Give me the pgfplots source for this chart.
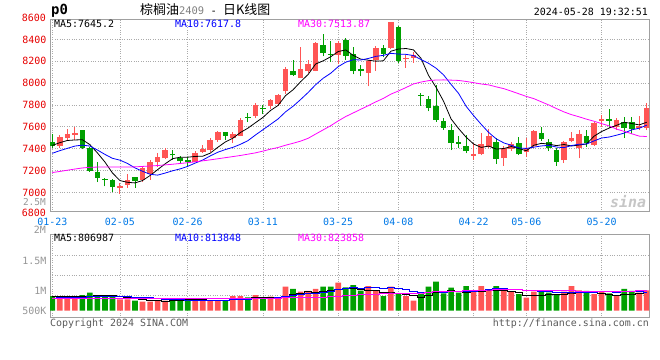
\documentclass[border=0pt]{standalone}
\usepackage{pgfplots}
\pgfplotsset{compat=1.18}
\usepackage{pgfplotstable}
\usepackage{fontspec}
\setmainfont{DejaVu Sans Mono}
\newfontfamily\cjk{Noto Sans CJK SC}
\definecolor{cR}{RGB}{255,85,85}
\definecolor{cG}{RGB}{0,160,0}
\definecolor{cBlue}{RGB}{0,0,255}
\definecolor{cMag}{RGB}{255,0,255}
\definecolor{cTick}{RGB}{0,120,230}
\definecolor{cFrame}{RGB}{160,160,160}
\definecolor{cGrid}{RGB}{170,170,170}
\definecolor{cLab}{RGB}{150,150,150}
\definecolor{cYL}{RGB}{230,0,0}
\definecolor{cFoot}{RGB}{90,90,90}
\pgfplotsset{
  wick/.style={draw=none, mark=none, forget plot, error bars/.cd, y dir=plus, y explicit, error mark=none, error bar style={draw=#1, solid, line width=1bp}},
  body/.style={draw=none, mark=none, forget plot, error bars/.cd, y dir=plus, y explicit, error mark=none, error bar style={draw=#1, solid, line width=5.6bp}},
}

\pgfplotstableread{
i ma5 ma10 ma30
0 7430 7358 7182
1 7455 7382 7192
2 7475 7403 7203
3 7480 7424 7214
4 7482.2 7433 7224
5 7437.4 7424 7230
6 7361.6 7388 7232
7 7278 7348 7232
8 7178 7312 7232
9 7108.4 7295.3 7232
10 7092.6 7265 7232
11 7087.2 7224.4 7234
12 7109 7193.5 7238
13 7154.6 7166.3 7242
14 7208.4 7158.4 7246
15 7261.8 7177.2 7252
16 7309 7198.1 7258
17 7322.4 7215.7 7265
18 7322.4 7238.5 7272
19 7329.2 7268.8 7280
20 7331.6 7296.7 7289
21 7359.6 7334.3 7298
22 7413 7367.7 7308
23 7461.4 7391.9 7318
24 7495.8 7412.5 7328
25 7548 7439.8 7338
26 7588 7473.8 7350
27 7637.6 7525.3 7362
28 7686.2 7573.8 7378
29 7749.2 7622.5 7395.5
30 7795.2 7671.6 7411.1
31 7885.4 7736.7 7431.8
32 7938.8 7788.2 7449.8
33 8012.6 7849.4 7469.2
34 8078.8 7914 7495
35 8174.6 7984.9 7534
36 8203.2 8044.3 7572.1
37 8240.8 8089.8 7610.3
38 8288.2 8150.4 7654.2
39 8303.2 8191 7694.1
40 8252.8 8213.7 7727.3
41 8219.4 8211.3 7760.8
42 8209 8224.9 7793.6
43 8200.4 8244.3 7828.5
44 8203.6 8253.4 7860
45 8291.4 8272.1 7898.9
46 8311.4 8265.4 7927.8
47 8316.2 8262.6 7959.2
48 8303.6 8252 7992.1
49 8226.6 8215.1 8009.5
50 8070.4 8180.9 8022.1
51 7961.4 8136.4 8028.1
52 7833.6 8074.9 8029.3
53 7671.8 7987.7 8027.1
54 7583.8 7905.2 8024.2
55 7505 7787.7 8014.9
56 7442.4 7701.9 8003.9
57 7412 7622.8 7991.7
58 7424 7547.9 7983.4
59 7396.8 7490.3 7965.5
60 7401.6 7453.3 7949.3
61 7419.8 7431.1 7926.3
62 7401.6 7406.8 7902.2
63 7381 7402.5 7878.2
64 7432 7414.4 7857.7
65 7449 7425.3 7828.4
66 7441.8 7430.8 7799.4
67 7428.6 7415.1 7766.8
68 7438.4 7409.7 7736.5
69 7425 7428.5 7711.3
70 7433.4 7441.2 7691.8
71 7443.2 7442.5 7670
72 7514.6 7471.6 7651.1
73 7557 7497.7 7629.3
74 7588.6 7506.8 7608.8
75 7614.2 7523.8 7578.9
76 7642 7542.6 7558.4
77 7630 7572.3 7536.7
78 7617.8 7587.4 7515
79 7642 7615.3 7511.4
}\matab

\pgfplotstableread{
i v5 v10 v30
0 640 560 550
1 630 570 550
2 620 580 550
3 615 590 550
4 613 600 550
5 642 610 550
6 672 620 550
7 686 625 550
8 686 630 550
9 648 631 550
10 590 616 550
11 540 606 550
12 496 591 550
13 446 566 550
14 434 541 550
15 422 506 550
16 443 491 550
17 464 480 550
18 493 470 550
19 493 464 550
20 493 458 550
21 472 458 550
22 461 462 550
23 440 467 550
24 481 487 550
25 522 508 550
26 551 512 550
27 601 531 550
28 581 531 550
29 575 549 548
30 575 563 546
31 648 625 563
32 730 676 576
33 774 716 583
34 830 738 589
35 809 768 594
36 830 815 606
37 874 852 621
38 947 921 640
39 961 962 658
40 976 1016 679
41 941 998 694
42 912 1011 716
43 882 1016 733
44 786 994 739
45 821 1004 760
46 751 972 766
47 704 931 771
48 663 852 768
49 598 822 777
50 663 815 798
51 789 855 826
52 853 822 837
53 909 835 856
54 856 850 860
55 818 853 875
56 838 866 884
57 853 910 898
58 873 956 909
59 873 991 925
60 876 973 935
61 827 929 927
62 795 926 920
63 692 882 911
64 683 887 910
65 683 862 906
66 695 855 898
67 727 820 887
68 727 814 874
69 777 814 876
70 797 815 868
71 824 818 867
72 803 818 856
73 754 845 854
74 727 837 858
75 683 818 844
76 727 834 852
77 733 847 859
78 739 843 871
79 789 824 876
}\vmatab

\begin{document}
\begin{tikzpicture}[every node/.style={font=\fontsize{10}{12}\selectfont}]
\useasboundingbox (0,0) rectangle (660bp,360bp);

% ---------- price panel ----------
\begin{axis}[
  at={(50bp,148.3bp)}, anchor=south west,
  width=599bp, height=192.7bp, scale only axis,
  xmin=-0.3, xmax=79.3, ymin=6824, ymax=8586,
  axis line style={cFrame, line width=0.8pt},
  xtick={0,9,18,28,38,46,56,63,73},
  xticklabels={01-23,02-05,02-26,03-11,03-25,04-08,04-22,05-06,05-20},
  xticklabel style={text=cTick, yshift=-2.5bp, text height=7.5bp, text depth=0bp},
  ytick={7000,7200,7400,7600,7800,8000,8200,8400},
  yticklabels={7000,7200,7400,7600,7800,8000,8200,8400},
  yticklabel style={text=cYL, text height=7.5bp, text depth=0bp},
  major tick length=0pt, tick style={draw=none},
  grid=major, grid style={cGrid, dotted, line width=0.7pt},
  clip mode=individual,
]
% wicks: (day, low) +- (0, high-low)
\addplot[wick=cR] coordinates {
(1,7409)+-(0,118) (2,7473)+-(0,103) (3,7476)+-(0,118) (9,6985)+-(0,100) (10,7039)+-(0,134)
(12,7100)+-(0,139) (13,7115)+-(0,182) (14,7236)+-(0,128) (15,7306)+-(0,103) (19,7276)+-(0,100)
(20,7361)+-(0,72) (21,7373)+-(0,121) (22,7464)+-(0,97) (24,7451)+-(0,104) (25,7512)+-(0,170)
(27,7685)+-(0,136) (29,7767)+-(0,90) (30,7791)+-(0,112) (31,7903)+-(0,242) (33,8045)+-(0,285)
(34,8094)+-(0,115) (35,8106)+-(0,273) (38,8173)+-(0,212) (42,7970)+-(0,242) (43,8109)+-(0,233)
(45,8312)+-(0,248) (47,8139)+-(0,122) (48,8188)+-(0,94) (56,7297)+-(0,155) (57,7342)+-(0,206)
(58,7403)+-(0,176) (60,7245)+-(0,182) (61,7379)+-(0,85) (63,7324)+-(0,176) (64,7409)+-(0,158)
(68,7267)+-(0,203) (69,7458)+-(0,97) (70,7312)+-(0,261) (72,7424)+-(0,221) (73,7600)+-(0,112)
(75,7570)+-(0,112) (78,7570)+-(0,130) (79,7570)+-(0,251)};
\addplot[wick=cG] coordinates {
(0,7409)+-(0,130) (4,7394)+-(0,173) (5,7191)+-(0,227) (6,7094)+-(0,182) (7,7055)+-(0,81)
(8,7003)+-(0,124) (11,7045)+-(0,94) (16,7297)+-(0,94) (17,7273)+-(0,60) (18,7233)+-(0,94)
(23,7479)+-(0,76) (26,7645)+-(0,82) (28,7721)+-(0,82) (32,8064)+-(0,145) (36,8245)+-(0,206)
(37,8191)+-(0,197) (39,8215)+-(0,194) (40,8079)+-(0,248) (41,8061)+-(0,100) (44,8236)+-(0,112)
(46,8188)+-(0,336) (49,7791)+-(0,115) (50,7742)+-(0,140) (51,7645)+-(0,334) (52,7573)+-(0,109)
(53,7388)+-(0,242) (54,7403)+-(0,109) (55,7358)+-(0,166) (59,7258)+-(0,236) (62,7342)+-(0,164)
(65,7470)+-(0,130) (66,7379)+-(0,109) (67,7245)+-(0,164) (71,7418)+-(0,149) (74,7591)+-(0,170)
(76,7500)+-(0,194) (77,7539)+-(0,149)};
% bodies: (day, lower body edge) +- (0, body height)
\addplot[body=cR] coordinates {
(1,7424)+-(0,85) (2,7494)+-(0,36) (3,7524)+-(0,24) (9,7042)+-(0,13) (10,7070)+-(0,48)
(12,7115)+-(0,106) (13,7167)+-(0,109) (14,7276)+-(0,48) (15,7312)+-(0,73) (19,7282)+-(0,76)
(20,7373)+-(0,24) (21,7385)+-(0,94) (22,7476)+-(0,79) (24,7500)+-(0,30) (25,7518)+-(0,140)
(27,7700)+-(0,103) (29,7791)+-(0,54) (30,7809)+-(0,79) (31,7924)+-(0,206) (33,8051)+-(0,79)
(34,8115)+-(0,61) (35,8115)+-(0,252) (38,8258)+-(0,109) (42,8094)+-(0,112) (43,8215)+-(0,109)
(45,8324)+-(0,230) (47,8218)+-(0,12) (48,8230)+-(0,31) (56,7336)+-(0,12) (57,7348)+-(0,91)
(58,7418)+-(0,94) (60,7312)+-(0,91) (61,7397)+-(0,42) (63,7373)+-(0,36) (64,7421)+-(0,140)
(68,7294)+-(0,164) (69,7470)+-(0,24) (70,7403)+-(0,127) (72,7433)+-(0,206) (73,7652)+-(0,18)
(75,7600)+-(0,58) (78,7585)+-(0,24) (79,7585)+-(0,188)};
\addplot[body=cG] coordinates {
(0,7421)+-(0,36) (4,7403)+-(0,164) (5,7197)+-(0,212) (6,7130)+-(0,61) (7,7112)+-(0,12)
(8,7048)+-(0,70) (11,7103)+-(0,36) (16,7339)+-(0,16) (17,7288)+-(0,27) (18,7276)+-(0,21)
(23,7518)+-(0,37) (26,7679)+-(0,15) (28,7761)+-(0,9) (32,8070)+-(0,42) (36,8273)+-(0,75)
(37,8258)+-(0,12) (39,8251)+-(0,146) (40,8115)+-(0,152) (41,8106)+-(0,24) (44,8267)+-(0,51)
(46,8206)+-(0,309) (49,7882)+-(0,9) (50,7773)+-(0,84) (51,7661)+-(0,133) (52,7591)+-(0,64)
(53,7452)+-(0,115) (54,7442)+-(0,16) (55,7379)+-(0,42) (59,7306)+-(0,158) (62,7348)+-(0,100)
(65,7488)+-(0,60) (66,7403)+-(0,55) (67,7282)+-(0,103) (71,7452)+-(0,60) (74,7652)+-(0,18)
(76,7591)+-(0,54) (77,7579)+-(0,66)};
\addplot[black, line width=0.8pt, mark=none] table[x=i,y=ma5] {\matab};
\addplot[cBlue, line width=0.8pt, mark=none] table[x=i,y=ma10] {\matab};
\addplot[cMag, line width=0.8pt, mark=none] table[x=i,y=ma30] {\matab};
\end{axis}

% ---------- volume panel ----------
\begin{axis}[
  at={(50bp,42.3bp)}, anchor=south west,
  width=599bp, height=83.4bp, scale only axis,
  xmin=-0.3, xmax=79.3, ymin=-307, ymax=3354,
  axis line style={cFrame, line width=0.8pt},
  xtick={0,9,18,28,38,46,56,63,73}, xticklabels={},
  xmajorgrids=true, ymajorgrids=false,
  ytick={0,878,2195}, yticklabels={500K,1M,1.5M},
  yticklabel style={text=cLab, text height=7.5bp, text depth=0bp},
  extra y ticks={689,1567,2445}, extra y tick labels={},
  extra y tick style={grid=major},
  major tick length=0pt, tick style={draw=none},
  grid style={cGrid, dotted, line width=0.7pt},
  clip mode=individual,
]
\addplot[ybar, bar width=0.75, bar shift=0pt, fill=cR, draw=none] coordinates {(1,543)(2,543)(3,645)(9,499)(10,499)(12,396)(13,396)(14,440)(15,440)(19,440)(20,440)(21,440)(22,440)(24,645)(25,645)(27,689)(29,616)(30,587)(31,1055)(33,836)(34,865)(35,953)(38,1231)(42,1084)(43,880)(45,1055)(47,645)(48,440)(56,865)(57,1084)(58,894)(60,880)(61,836)(63,572)(64,836)(68,836)(69,1084)(70,894)(72,733)(73,836)(75,645)(78,792)(79,894)};
\addplot[ybar, bar width=0.75, bar shift=0pt, fill=cG, draw=none] coordinates {(0,645)(4,689)(5,792)(6,689)(7,616)(8,645)(11,440)(16,543)(17,499)(18,543)(23,440)(26,587)(28,543)(32,953)(36,1055)(37,1055)(39,1026)(40,1128)(41,880)(44,645)(46,733)(49,733)(50,1055)(51,1275)(52,762)(53,1011)(54,792)(55,1084)(59,1084)(62,733)(65,836)(66,792)(67,733)(71,865)(74,762)(76,953)(77,865)};
\addplot[black, line width=0.8pt, mark=none, const plot mark mid] table[x=i,y=v5] {\vmatab};
\addplot[cBlue, line width=0.8pt, mark=none, const plot mark mid] table[x=i,y=v10] {\vmatab};
\addplot[cMag, line width=0.8pt, mark=none, const plot mark mid] table[x=i,y=v30] {\vmatab};
\end{axis}

% ---------- texts ----------
\node[anchor=west, inner sep=0] at (51bp,349bp) {\fontsize{14}{14}\selectfont\bfseries p0};
\node[anchor=west, inner sep=0] at (140bp,350bp) {\cjk\fontsize{13}{14}\selectfont 棕榈油{\color{gray}\fontspec{DejaVu Sans Mono}\fontsize{10.5}{12}\selectfont 2409}\fontspec{DejaVu Sans Mono}\fontsize{10.5}{12}\selectfont{} - \cjk\fontsize{13}{14}\selectfont 日K线图};
\node[anchor=east, inner sep=0] at (648bp,348bp) {2024-05-28 19:32:51};
\node[anchor=west, inner sep=0] at (54bp,336bp) {MA5:7645.2};
\node[anchor=west, inner sep=0, text=cBlue] at (175bp,336bp) {MA10:7617.8};
\node[anchor=west, inner sep=0, text=cMag] at (298bp,336bp) {MA30:7513.87};
\node[anchor=west, inner sep=0] at (54bp,121.7bp) {MA5:806987};
\node[anchor=west, inner sep=0, text=cBlue] at (175bp,121.7bp) {MA10:813848};
\node[anchor=west, inner sep=0, text=cMag] at (298bp,121.7bp) {MA30:823858};
\node[anchor=east, inner sep=0, text=cYL, text height=7.5bp, text depth=0bp] at (46bp,342.5bp) {8600};
\node[anchor=east, inner sep=0, text=cYL, text height=7.5bp, text depth=0bp] at (46bp,147bp) {6800};
\node[anchor=east, inner sep=0, text=cLab, text height=7bp, text depth=0bp, font=\fontsize{9.5}{11}\selectfont] at (46bp,158.3bp) {2.5M};
\node[anchor=east, inner sep=0, text=cLab, text height=7.5bp, text depth=0bp] at (46bp,130bp) {2M};
\node[anchor=west, inner sep=0, text=cFoot] at (50bp,36bp) {Copyright 2024 SINA.COM};
\node[anchor=east, inner sep=0, text=cFoot] at (649bp,36bp) {http://finance.sina.com.cn};
\node[inner sep=0, text=gray!45] at (628bp,158bp) {\fontsize{15}{15}\selectfont\bfseries\itshape sina};
\end{tikzpicture}
\end{document}
